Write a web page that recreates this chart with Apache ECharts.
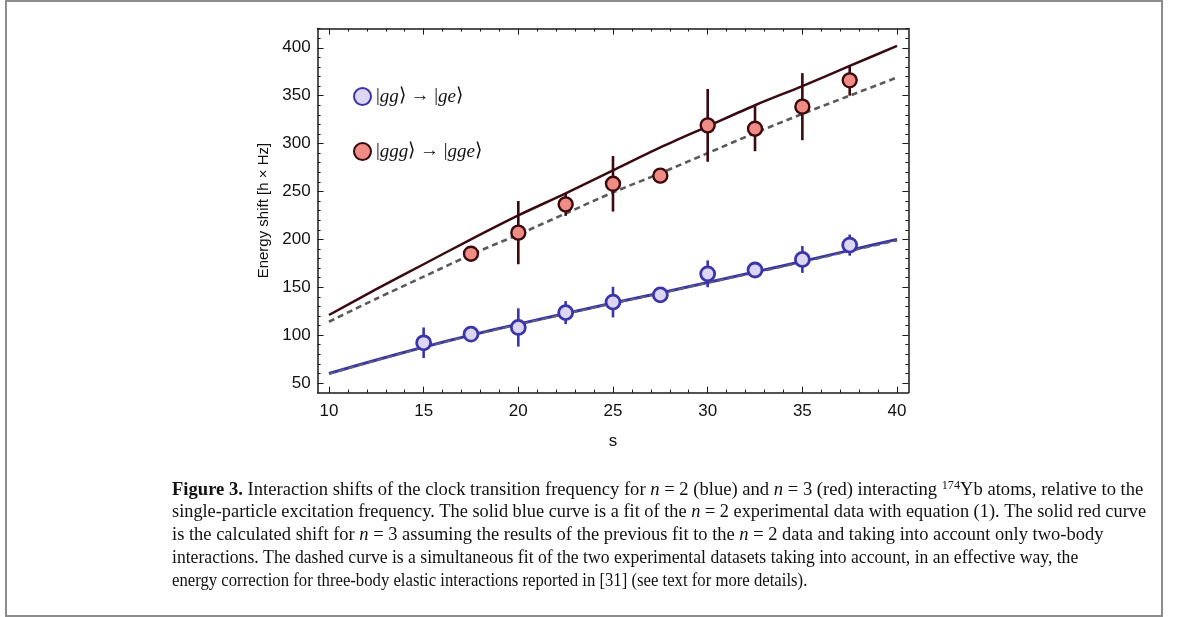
<!DOCTYPE html>
<html>
<head>
<meta charset="utf-8">
<script src="https://cdn.jsdelivr.net/npm/echarts@6/dist/echarts.min.js"></script>
<style>
  html, body { margin: 0; padding: 0; background: #fff; }
  #chart { width: 1179px; height: 617px; }
</style>
</head>
<body>
<div id="chart"></div>
<script>
// measured points, s = scattering length axis
var sPts = [15, 17.5, 20, 22.5, 25, 27.5, 30, 32.5, 35, 37.5];
var n2Vals = [92, 101, 108, 123.5, 134.5, 142, 164, 168, 179, 194];
var n2Err = [16, 4, 20, 12, 16, 3, 14, 4, 14, 11];

var sPts3 = [17.5, 20, 22.5, 25, 27.5, 30, 32.5, 35, 37.5];
var n3Vals = [185, 207, 236.5, 258, 266.5, 319, 315.5, 338.5, 366];
var n3Err = [4, 33, 12, 29, 8, 38, 23.5, 35, 16];

// fitted curves
var fitS = [10, 12.5, 15, 17.5, 20, 22.5, 25, 27.5, 30, 32.5, 35, 37.5, 40];
var n2Fit = [60, 74, 87.5, 100, 111.5, 122.5, 133.5, 144, 155, 166, 177, 188.5, 200];
var n2Dash = [59.5, 73.5, 87, 99.5, 111, 122, 133, 143.5, 154.5, 165, 176, 187.5, 198.5];
var n3Fit = [121, 148, 174, 200, 225, 248, 272, 296, 318, 340, 360, 381, 402];
var n3Dash = [114, 138, 161, 184, 205, 227, 249, 269, 290, 311, 331, 350, 369];

// ticks
var xTicks = [10, 15, 20, 25, 30, 35, 40];
var xMinor = [];
for (var i = 10; i <= 40; i++) xMinor.push(i);
var yTicks = [50, 100, 150, 200, 250, 300, 350, 400];
var yMinor = [];
for (var j = 50; j <= 420; j += 10) yMinor.push(j);

var legendLabels = {
  gg: '|{i|gg}⟩ → |{i|ge}⟩',
  ggg: '|{i|ggg}⟩ → |{i|gge}⟩'
};

var captionLines = [
  '{b|Figure 3.} Interaction shifts of the clock transition frequency for {i|n} = 2 (blue) and {i|n} = 3 (red) interacting {sup|174}Yb atoms, relative to the',
  'single-particle excitation frequency. The solid blue curve is a fit of the {i|n} = 2 experimental data with equation ({l|1}). The solid red curve',
  'is the calculated shift for {i|n} = 3 assuming the results of the previous fit to the {i|n} = 2 data and taking into account only two-body',
  'interactions. The dashed curve is a simultaneous fit of the two experimental datasets taking into account, in an effective way, the',
  'energy correction for three-body elastic interactions reported in [{l|31}] (see text for more details).'
];
// horizontal squeeze per caption line, to match the narrower journal face
var captionScale = [1.017, 1.002, 1.011, 0.965, 0.914];

var X_MIN = 9.4, X_MAX = 40.6, Y_MIN = 40, Y_MAX = 420;
var ink = '#1a1a1a';
var capSize = 18.3;

function pairs(xs, ys) {
  return xs.map(function (x, k) { return [x, ys[k]]; });
}
function errData(xs, ys, es) {
  return xs.map(function (x, k) { return [x, ys[k] - es[k], ys[k] + es[k]]; });
}
function errBar(color) {
  return function (params, api) {
    var p1 = api.coord([api.value(0), api.value(1)]);
    var p2 = api.coord([api.value(0), api.value(2)]);
    return {
      type: 'line',
      shape: {x1: p1[0], y1: p1[1], x2: p2[0], y2: p2[1]},
      style: {stroke: color, lineWidth: 2.6}
    };
  };
}
function xAxis(pos, major, showLine) {
  return {
    type: 'value', min: X_MIN, max: X_MAX, position: pos,
    axisLine: {show: showLine, onZero: false, lineStyle: {color: ink, width: 1.5}},
    axisTick: {inside: true, length: major ? 6 : 3, customValues: major ? xTicks : xMinor, lineStyle: {color: ink, width: 1}},
    axisLabel: {show: false},
    splitLine: {show: false}
  };
}
function yAxis(pos, major, showLine) {
  return {
    type: 'value', min: Y_MIN, max: Y_MAX, position: pos,
    axisLine: {show: showLine, onZero: false, lineStyle: {color: ink, width: 1.5}},
    axisTick: {inside: true, length: major ? 6 : 3, customValues: major ? yTicks : yMinor, lineStyle: {color: ink, width: 1}},
    axisLabel: {show: false},
    splitLine: {show: false}
  };
}

var xMain = xAxis('bottom', true, true);
xMain.axisLabel = {show: true, customValues: xTicks, fontSize: 17, color: '#111', fontFamily: 'Liberation Sans', margin: 10};
xMain.name = 's';
xMain.nameLocation = 'middle';
xMain.nameGap = 40;
xMain.nameTextStyle = {fontSize: 17, color: '#111', fontFamily: 'Liberation Sans'};

var yMain = yAxis('left', true, true);
yMain.axisLabel = {show: true, customValues: yTicks, fontSize: 17, color: '#111', fontFamily: 'Liberation Sans', margin: 7};
yMain.name = 'Energy shift [h × Hz]';
yMain.nameLocation = 'middle';
yMain.nameGap = 44;
yMain.nameTextStyle = {fontSize: 15, color: '#111', fontFamily: 'Liberation Sans'};

var graphics = [{
  type: 'rect', silent: true,
  shape: {x: 6, y: 1, width: 1156, height: 615},
  style: {fill: 'none', stroke: '#8c8c8c', lineWidth: 2}
}];
captionLines.forEach(function (t, k) {
  graphics.push({
    type: 'text', x: 172, y: 480 + k * 23, scaleX: captionScale[k],
    style: {
      text: t, fill: '#111', font: capSize + 'px "Liberation Serif"',
      rich: {
        b: {fontWeight: 'bold', fontSize: capSize, fontFamily: 'Liberation Serif'},
        i: {fontStyle: 'italic', fontSize: capSize, fontFamily: 'Liberation Serif'},
        l: {fontSize: capSize, fontFamily: 'Liberation Serif', color: '#2a86c4'},
        sup: {fontSize: 12, fontFamily: 'Liberation Serif', verticalAlign: 'top', lineHeight: 21}
      }
    }
  });
});

var option = {
  animation: false,
  grid: {left: 317.6, right: 270.6, top: 28.6, bottom: 224.4, containLabel: false},
  legend: {
    orient: 'vertical', left: 348, top: 82, itemWidth: 17, itemHeight: 17, itemGap: 36,
    icon: 'circle', data: ['gg', 'ggg'],
    formatter: function (n) { return legendLabels[n]; },
    textStyle: {
      fontSize: 19, color: '#111', fontFamily: 'Liberation Serif',
      rich: {i: {fontStyle: 'italic', fontSize: 19, fontFamily: 'Liberation Serif'}}
    }
  },
  xAxis: [xMain, xAxis('bottom', false, false), xAxis('top', true, true), xAxis('top', false, false)],
  yAxis: [yMain, yAxis('left', false, false), yAxis('right', true, true), yAxis('right', false, false)],
  graphic: graphics,
  series: [
    {
      type: 'line', data: pairs(fitS, n3Fit), smooth: 0.3, showSymbol: false, z: 2,
      lineStyle: {color: '#3a0a12', width: 2.5}
    },
    {
      type: 'line', data: pairs(fitS, n3Dash), smooth: 0.3, showSymbol: false, z: 2,
      lineStyle: {color: '#5a5a5a', width: 2.6, type: [6, 4]}
    },
    {
      type: 'line', data: pairs(fitS, n2Fit), smooth: 0.3, showSymbol: false, z: 2,
      lineStyle: {color: '#3a36a8', width: 3}
    },
    {
      type: 'line', data: pairs(fitS, n2Dash), smooth: 0.3, showSymbol: false, z: 2,
      lineStyle: {color: '#626270', width: 1.8, type: [6, 4]}
    },
    {
      type: 'custom', data: errData(sPts3, n3Vals, n3Err), renderItem: errBar('#3a0a12'),
      encode: {x: 0, y: [1, 2]}, z: 3
    },
    {
      type: 'custom', data: errData(sPts, n2Vals, n2Err), renderItem: errBar('#3a36a8'),
      encode: {x: 0, y: [1, 2]}, z: 3
    },
    {
      name: 'ggg', type: 'scatter', data: pairs(sPts3, n3Vals), symbolSize: 14, z: 5,
      itemStyle: {color: '#f08c86', borderColor: '#3a0a0e', borderWidth: 2.4, opacity: 1}
    },
    {
      name: 'gg', type: 'scatter', data: pairs(sPts, n2Vals), symbolSize: 14, z: 5,
      itemStyle: {color: '#dcd6f3', borderColor: '#3a36a8', borderWidth: 2.8, opacity: 1}
    }
  ]
};

var chart = echarts.init(document.getElementById('chart'), null, {renderer: 'canvas'});
chart.setOption(option);
</script>
</body>
</html>
